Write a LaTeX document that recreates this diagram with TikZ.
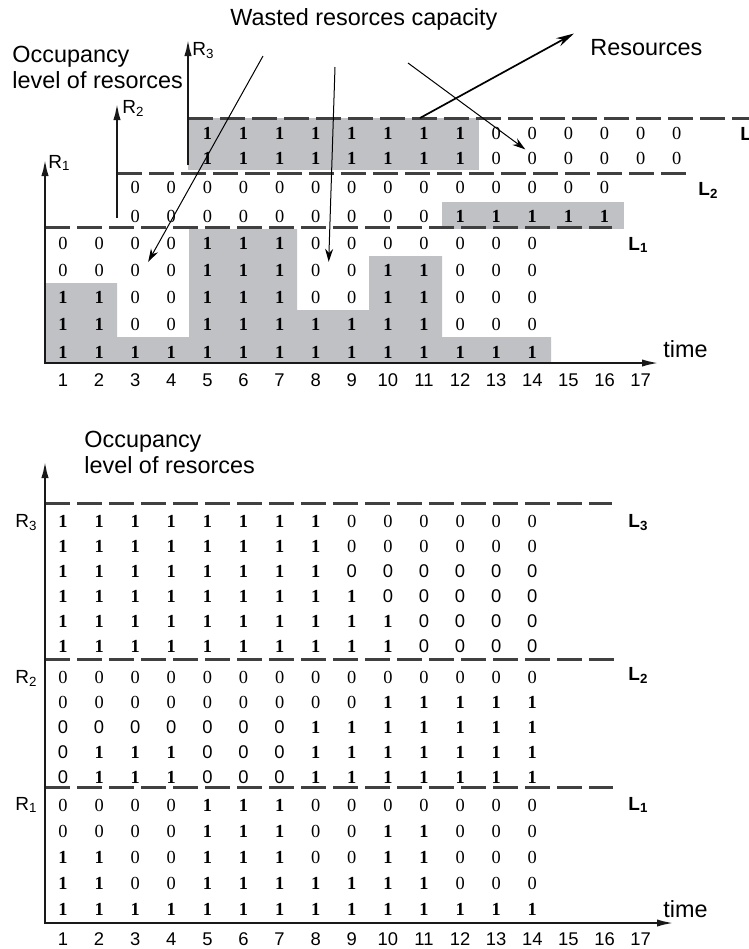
\documentclass[tikz,border=0pt]{standalone}
\usepackage{fontspec}
\setmainfont{Liberation Serif}
\setsansfont{Liberation Sans}
\usetikzlibrary{arrows.meta}
\definecolor{occgray}{RGB}{192,193,197}
\definecolor{dashgray}{RGB}{64,64,64}
\newcommand{\bit}[1]{\ifcase#1 0\or\textbf{1}\or\textsf{0}\fi}
\begin{document}
\begin{tikzpicture}[
    x=0.5pt, y=0.5pt,
    txt/.style={font=\sffamily\fontsize{11.7}{13}\selectfont, inner sep=0pt, anchor=base west},
    cell/.style={font=\fontsize{9.2}{10}\selectfont, inner sep=1pt},
    num/.style={font=\sffamily\fontsize{9.2}{10}\selectfont, inner sep=0pt, anchor=base},
    rlab/.style={font=\sffamily\fontsize{9.5}{10}\selectfont, inner sep=0pt, anchor=base west},
    llab/.style={font=\sffamily\bfseries\fontsize{9.5}{10}\selectfont, inner sep=0pt, anchor=base west},
    occaxis/.style={line width=1.3pt, black!90, {Latex[length=9pt,width=3.6pt]}-{Latex[length=9pt,width=3.6pt]}},
    upaxis/.style={line width=1.3pt, black!90, -{Latex[length=9pt,width=3.6pt]}},
    limit/.style={line width=1.5pt, dashgray, dash pattern=on 12.5pt off 3.5pt},
    waste/.style={line width=0.5pt, -{Stealth[length=6.5pt,width=4pt]}},
    resarrow/.style={line width=0.85pt, -{Stealth[length=9pt,width=4.5pt]}}
    ]
    \useasboundingbox (0,0) rectangle (749,-949);
    % upper picture: three separate resources
    \fill[occgray] (45,-363) -- (45,-283) -- (117,-283) -- (117,-337) -- (189,-337)
      -- (189,-229) -- (297,-229) -- (297,-310) -- (369,-310) -- (369,-256)
      -- (442,-256) -- (442,-337) -- (551,-337) -- (551,-363) -- cycle;
    \fill[occgray] (188,-118) rectangle (479,-170);
    \fill[occgray] (442,-202) rectangle (624,-229);
    \draw[limit] (188,-118) -- (749,-118);
    \draw[limit] (117,-173) -- (687,-173);
    \draw[limit] (45,-227) -- (612,-227);
    \foreach \row [count=\r] in {{1,1,1,1,1,1,1,1,1,1,1,1,1,1},{1,1,0,0,1,1,1,1,1,1,1,0,0,0},
        {1,1,0,0,1,1,1,0,0,1,1,0,0,0},{0,0,0,0,1,1,1,0,0,1,1,0,0,0},{0,0,0,0,1,1,1,0,0,0,0,0,0,0}}
      \foreach \v [count=\c] in \row
        \node[cell] (a-\r-\c) at ({63+36.1*(\c-1)},{-352+27.2*(\r-1)}) {\bit{\v}};
    \foreach \row [count=\r] in {{0,0,0,0,0,0,0,0,0,1,1,1,1,1},{0,0,0,0,0,0,0,0,0,0,0,0,0,0}}
      \foreach \v [count=\c from 3] in \row
        \node[cell] (b-\r-\c) at ({63+36.1*(\c-1)},{-216+29*(\r-1)}) {\bit{\v}};
    \foreach \row [count=\r] in {{1,1,1,1,1,1,1,1,0,0,0,0,0,0},{1,1,1,1,1,1,1,1,0,0,0,0,0,0}}
      \foreach \v [count=\c from 5] in \row
        \node[cell] (c-\r-\c) at ({63+36.1*(\c-1)},{-158+25*(\r-1)}) {\bit{\v}};
    \draw[occaxis] (45,-158) -- (45,-363) -- (660,-363);
    \draw[upaxis] (117,-218) -- (117,-102);
    \draw[upaxis] (188,-165) -- (188,-38);
    \node[rlab] (r1) at (48,-168) {R\textsubscript{1}};
    \node[rlab] (r2) at (122,-113) {R\textsubscript{2}};
    \node[rlab] (r3) at (192,-55) {R\textsubscript{3}};
    \node[llab] (l1) at (628,-250) {L\textsubscript{1}};
    \node[llab] (l2) at (698,-195) {L\textsubscript{2}};
    \node[llab] (l3) at (740,-140) {L\textsubscript{3}};
    \foreach \c in {1,...,17}
      \node[num] (t-\c) at ({63+36.1*(\c-1)},-386) {\c};
    \node[txt] (time1) at (663,-357) {time};
    \node[txt] (occ1) at (12,-62) {Occupancy};
    \node[txt] (lev1) at (12,-88) {level of resorces};
    \node[txt] (wasted) at (230,-25) {Wasted resorces capacity};
    \node[txt] (resources) at (590,-55) {Resources};
    \coordinate (w1) at (263,-56);
    \coordinate (w2) at (335,-67);
    \coordinate (w3) at (408,-63);
    \coordinate (rs) at (420,-118);
    \draw[waste] (w1) -- ([xshift=3pt]a-4-3.north east);
    \draw[waste] (w2) -- ([xshift=3pt]a-4-8.north east);
    \draw[waste] (w3) -- (c-1-14.north west);
    \draw[resarrow] (rs) -- ([shift={(-8pt,2.5pt)}]resources.north west);
    % lower picture: one joint resource
    \draw[limit] (45,-503) -- (612,-503);
    \draw[limit] (45,-659) -- (615,-659);
    \draw[limit] (45,-787) -- (613,-787);
    \foreach \row [count=\r] in {{1,1,1,1,1,1,1,1,1,1,1,1,1,1},{1,1,0,0,1,1,1,1,1,1,1,0,0,0},
        {1,1,0,0,1,1,1,0,0,1,1,0,0,0},{0,0,0,0,1,1,1,0,0,1,1,0,0,0},{0,0,0,0,1,1,1,0,0,0,0,0,0,0}}
      \foreach \v [count=\c] in \row
        \node[cell] (d-\r-\c) at ({63+36.1*(\c-1)},{-909+26*(\r-1)}) {\bit{\v}};
    \foreach \row [count=\r] in {{2,1,1,1,2,2,2,1,1,1,1,1,1,1},{2,1,1,1,2,2,2,1,1,1,1,1,1,1},
        {2,2,2,2,2,2,2,1,1,1,1,1,1,1},{0,0,0,0,0,0,0,0,0,1,1,1,1,1},{0,0,0,0,0,0,0,0,0,0,0,0,0,0}}
      \foreach \v [count=\c] in \row
        \node[cell] (e-\r-\c) at ({63+36.1*(\c-1)},{-777+25*(\r-1)}) {\bit{\v}};
    \foreach \row [count=\r] in {{1,1,1,1,1,1,1,1,1,1,2,2,2,2},{1,1,1,1,1,1,1,1,1,1,2,2,2,2},
        {1,1,1,1,1,1,1,1,1,2,2,2,2,2},{1,1,1,1,1,1,1,1,2,2,2,2,2,2},
        {1,1,1,1,1,1,1,1,0,0,0,0,0,0},{1,1,1,1,1,1,1,1,0,0,0,0,0,0}}
      \foreach \v [count=\c] in \row
        \node[cell] (f-\r-\c) at ({63+36.1*(\c-1)},{-646+25*(\r-1)}) {\bit{\v}};
    \draw[occaxis] (45,-460) -- (45,-923) -- (675,-923);
    \node[rlab] (s1) at (15,-810) {R\textsubscript{1}};
    \node[rlab] (s2) at (15,-683) {R\textsubscript{2}};
    \node[rlab] (s3) at (15,-527) {R\textsubscript{3}};
    \node[llab] (m1) at (628,-810) {L\textsubscript{1}};
    \node[llab] (m2) at (628,-680) {L\textsubscript{2}};
    \node[llab] (m3) at (628,-527) {L\textsubscript{3}};
    \foreach \c in {1,...,17}
      \node[num] (u-\c) at ({63+36.1*(\c-1)},-945) {\c};
    \node[txt] (time2) at (663,-917) {time};
    \node[txt] (occ2) at (84,-447) {Occupancy};
    \node[txt] (lev2) at (84,-473) {level of resorces};
\end{tikzpicture}
\end{document}
